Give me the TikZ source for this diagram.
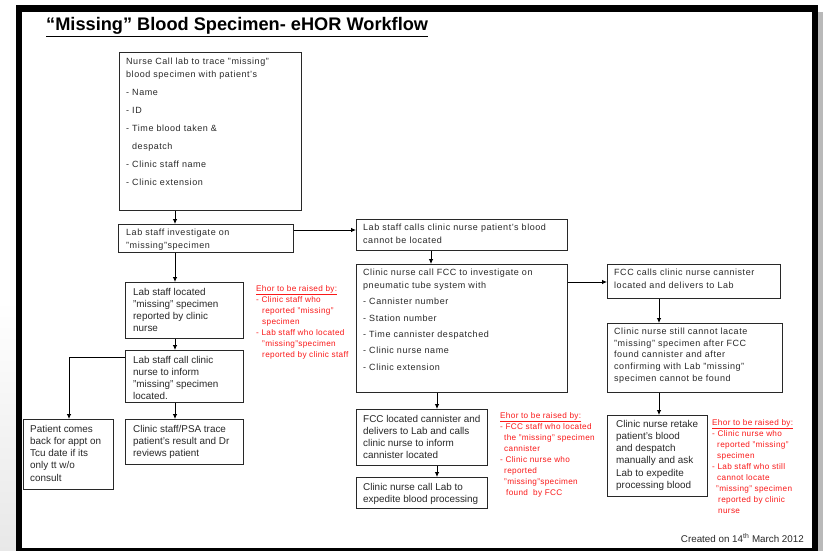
\documentclass[tikz,border=0pt]{standalone}
\usepackage{fontspec}
\setmainfont{Liberation Sans}
\usetikzlibrary{arrows.meta,calc}
\definecolor{ehor}{RGB}{250,25,25}
\definecolor{ink}{RGB}{40,40,40}
\begin{document}
\begin{tikzpicture}[x=1pt,y=-1pt,
  box/.style={draw=ink, line width=0.8pt, anchor=north west, inner sep=0pt},
  txt/.style={anchor=north west, inner sep=0pt, align=left, text=ink},
  small/.style={font=\fontsize{9}{12.8}\selectfont\addfontfeature{LetterSpace=6}},
  big/.style={font=\fontsize{9.9}{12.2}\selectfont},
  ehortxt/.style={anchor=north west, inner sep=0pt, align=left, text=ehor, font=\fontsize{8.2}{11}\selectfont\addfontfeature{LetterSpace=4}},
  arr/.style={draw=black, line width=0.8pt, -{Latex[length=5pt,width=4.5pt]}},
  plain/.style={draw=black, line width=0.8pt}
]
\useasboundingbox (0,0) rectangle (823,551);
% slide background and frame
\shade[top color=white, bottom color=gray!18] (0,300) rectangle (16,551);
\fill[gray!55] (818,12) rectangle (823,551);
\fill[black] (16,5) rectangle (818,551);
\fill[white] (22,12) rectangle (812,548);
% title
\node[anchor=base west, inner sep=0pt, font=\fontsize{18.2}{21}\selectfont\bfseries] (title) at (46,31) {\underline{``Missing'' Blood Specimen- eHOR Workflow}};
% boxes
\node[box, minimum width=182pt, minimum height=158pt] (n1) at (119,52) {};
\node[box, minimum width=175pt, minimum height=28pt] (n2) at (118,224) {};
\node[box, minimum width=211pt, minimum height=31pt] (n3) at (356,219) {};
\node[box, minimum width=118pt, minimum height=56pt] (n4) at (125,282) {};
\node[box, minimum width=118pt, minimum height=52pt] (n5) at (125,350) {};
\node[box, minimum width=90pt, minimum height=70pt] (n6) at (23,419) {};
\node[box, minimum width=118pt, minimum height=45pt] (n7) at (125,419) {};
\node[box, minimum width=211pt, minimum height=128pt] (n8) at (356,264) {};
\node[box, minimum width=131pt, minimum height=56pt] (n9) at (356,409) {};
\node[box, minimum width=131pt, minimum height=31pt] (n10) at (356,477) {};
\node[box, minimum width=173pt, minimum height=34pt] (n11) at (607,264) {};
\node[box, minimum width=175pt, minimum height=69pt] (n12) at (607,323) {};
\node[box, minimum width=100pt, minimum height=81pt] (n13) at (607,415) {};
% box texts
\node[txt, small] (t1) at (126,58) {Nurse Call lab to trace "missing"\\ blood specimen with patient's\\[5.2pt] - Name\\[5.2pt] - ID\\[5.2pt] - Time blood taken \&\\[5.2pt] \hspace*{6pt}despatch\\[5.2pt] - Clinic staff name\\[5.2pt] - Clinic extension};
\node[txt, small] (t2) at (126,229) {Lab staff investigate on\\ "missing"specimen};
\node[txt, small] (t3) at (363,224) {Lab staff calls clinic nurse patient's blood\\ cannot be located};
\node[txt, big] (t4) at (133,288) {Lab staff located\\ "missing" specimen\\ reported by clinic\\ nurse};
\node[txt, big] (t5) at (133,356) {Lab staff call clinic\\ nurse to inform\\ "missing" specimen\\ located.};
\node[txt, big] (t6) at (30,425) {Patient comes\\ back for appt on\\ Tcu date if its\\ only tt w/o\\ consult};
\node[txt, big] (t7) at (133,425) {Clinic staff/PSA trace\\ patient's result and Dr\\ reviews patient};
\node[txt, small] (t8) at (363,269) {Clinic nurse call FCC to investigate on\\ pneumatic tube system with\\[3.5pt] - Cannister number\\[3.5pt] - Station number\\[3.5pt] - Time cannister despatched\\[3.5pt] - Clinic nurse name\\[3.5pt] - Clinic extension};
\node[txt, big] (t9) at (363,415) {FCC located cannister and\\ delivers to Lab and calls\\ clinic nurse to inform\\ cannister located};
\node[txt, big] (t10) at (363,483) {Clinic nurse call Lab to\\ expedite blood processing};
\node[txt, small] (t11) at (614,269) {FCC calls clinic nurse cannister\\ located and delivers to Lab};
\node[txt, small, font=\fontsize{9}{11.6}\selectfont\addfontfeature{LetterSpace=6}] (t12) at (614,328) {Clinic nurse still cannot lacate\\ "missing" specimen after FCC\\ found cannister and after\\ confirming with Lab "missing"\\ specimen cannot be found};
\node[txt, big] (t13) at (616,420) {Clinic nurse retake\\ patient's blood\\ and despatch\\ manually and ask\\ Lab to expedite\\ processing blood};
% red notes
\node[ehortxt] (r1) at (256,285) {\underline{Ehor to be raised by:}\\ - Clinic staff who\\ \hspace*{6pt}reported "missing"\\ \hspace*{6pt}specimen\\ - Lab staff who located\\ \hspace*{6pt}"missing"specimen\\ \hspace*{6pt}reported by clinic staff};
\node[ehortxt] (r2) at (500,412) {\underline{Ehor to be raised by:}\\ - FCC staff who located\\ \hspace*{4pt}the "missing" specimen\\ \hspace*{4pt}cannister\\ - Clinic nurse who\\ \hspace*{4pt}reported\\ \hspace*{4pt}"missing"specimen\\ \hspace*{6pt}found\ \ by FCC};
\node[ehortxt] (r3) at (712,419) {\underline{Ehor to be raised by:}\\ - Clinic nurse who\\ \hspace*{5pt}reported "missing"\\ \hspace*{5pt}specimen\\ - Lab staff who still\\ \hspace*{5pt}cannot locate\\ \hspace*{4pt}"missing" specimen\\ \hspace*{6pt}reported by clinic\\ \hspace*{6pt}nurse};
% footer
\node[anchor=base east, inner sep=0pt, font=\fontsize{9.8}{11}\selectfont, text=ink] (foot) at (804,542) {Created on 14\textsuperscript{th} March 2012};
% connectors
\draw[arr] (n1.south -| 175,0) -- (n2.north -| 175,0);
\draw[arr] (n2.east |- 0,230) -- (n3.west |- 0,230);
\draw[arr] (n2.south -| 175,0) -- (n4.north -| 175,0);
\draw[arr] (n4.south -| 175,0) -- (n5.north -| 175,0);
\draw[arr] (n5.south -| 175,0) -- (n7.north -| 175,0);
\draw[arr] (n5.west |- 0,357) -| (n6.north -| 69,0);
\draw[arr] (n3.south -| 431,0) -- (n8.north -| 431,0);
\draw[arr] (n8.east |- 0,282) -- (n11.west |- 0,282);
\draw[arr] (n8.south -| 437,0) -- (n9.north -| 437,0);
\draw[arr] (n9.south -| 437,0) -- (n10.north -| 437,0);
\draw[arr] (n11.south -| 659,0) -- (n12.north -| 659,0);
\draw[arr] (n12.south -| 659,0) -- (n13.north -| 659,0);
\end{tikzpicture}
\end{document}
